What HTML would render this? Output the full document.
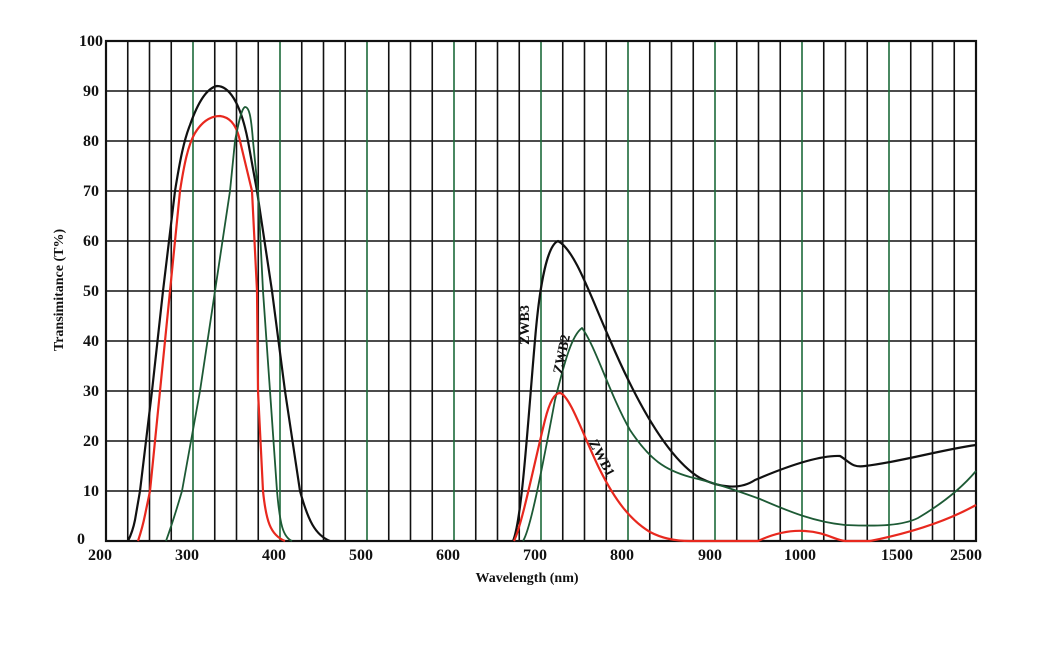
<!DOCTYPE html>
<html><head><meta charset="utf-8"><style>
body{margin:0;background:#fff}
svg{display:block}
text{font-family:"Liberation Serif",serif;font-weight:bold;fill:#111}
</style></head><body>
<svg width="1051" height="645" viewBox="0 0 1051 645" xmlns="http://www.w3.org/2000/svg">
<rect width="1051" height="645" fill="#fff"/>
<g stroke="#111" stroke-width="1.6">
<line x1="106" y1="91" x2="976" y2="91"/><line x1="106" y1="141" x2="976" y2="141"/>
<line x1="106" y1="191" x2="976" y2="191"/><line x1="106" y1="241" x2="976" y2="241"/>
<line x1="106" y1="291" x2="976" y2="291"/><line x1="106" y1="341" x2="976" y2="341"/>
<line x1="106" y1="391" x2="976" y2="391"/><line x1="106" y1="441" x2="976" y2="441"/>
<line x1="106" y1="491" x2="976" y2="491"/>
</g>
<g stroke="#111" stroke-width="1.6">
<line x1="127.75" y1="41" x2="127.75" y2="541"/><line x1="149.5" y1="41" x2="149.5" y2="541"/><line x1="171.25" y1="41" x2="171.25" y2="541"/>
<line x1="214.75" y1="41" x2="214.75" y2="541"/><line x1="236.5" y1="41" x2="236.5" y2="541"/><line x1="258.25" y1="41" x2="258.25" y2="541"/>
<line x1="301.75" y1="41" x2="301.75" y2="541"/><line x1="323.5" y1="41" x2="323.5" y2="541"/><line x1="345.25" y1="41" x2="345.25" y2="541"/>
<line x1="388.75" y1="41" x2="388.75" y2="541"/><line x1="410.5" y1="41" x2="410.5" y2="541"/><line x1="432.25" y1="41" x2="432.25" y2="541"/>
<line x1="475.75" y1="41" x2="475.75" y2="541"/><line x1="497.5" y1="41" x2="497.5" y2="541"/><line x1="519.25" y1="41" x2="519.25" y2="541"/>
<line x1="562.75" y1="41" x2="562.75" y2="541"/><line x1="584.5" y1="41" x2="584.5" y2="541"/><line x1="606.25" y1="41" x2="606.25" y2="541"/>
<line x1="649.75" y1="41" x2="649.75" y2="541"/><line x1="671.5" y1="41" x2="671.5" y2="541"/><line x1="693.25" y1="41" x2="693.25" y2="541"/>
<line x1="736.75" y1="41" x2="736.75" y2="541"/><line x1="758.5" y1="41" x2="758.5" y2="541"/><line x1="780.25" y1="41" x2="780.25" y2="541"/>
<line x1="823.75" y1="41" x2="823.75" y2="541"/><line x1="845.5" y1="41" x2="845.5" y2="541"/><line x1="867.25" y1="41" x2="867.25" y2="541"/>
<line x1="910.75" y1="41" x2="910.75" y2="541"/><line x1="932.5" y1="41" x2="932.5" y2="541"/><line x1="954.25" y1="41" x2="954.25" y2="541"/>
</g>
<g stroke="#1d6b3a" stroke-width="1.6">
<line x1="193" y1="41" x2="193" y2="541"/><line x1="280" y1="41" x2="280" y2="541"/><line x1="367" y1="41" x2="367" y2="541"/>
<line x1="454" y1="41" x2="454" y2="541"/><line x1="541" y1="41" x2="541" y2="541"/><line x1="628" y1="41" x2="628" y2="541"/>
<line x1="715" y1="41" x2="715" y2="541"/><line x1="802" y1="41" x2="802" y2="541"/><line x1="889" y1="41" x2="889" y2="541"/>
</g>
<rect x="106" y="41" width="870" height="500" fill="none" stroke="#111" stroke-width="2.2"/>

<g fill="none" stroke-width="2.2" stroke-linejoin="round">
<path stroke="#111" d="M128,541 C131,535 133,530 135,520 L140,491 L152,391 L163,291 L175,191 C180,160 184,140 190,125 C198,102 207,88 217,86 C228,86 240,100 248,141 L257,191 L272,291 L285,391 L300,491 C308,520 315,535 330,541"/>
<path stroke="#e8281e" d="M138,541 C140,535 143,525 145,515 L150,491 L160,391 L170,291 L180,191 C184,165 188,145 195,133 C203,120 212,116 220,116 C228,117 236,122 240,141 L252,191 L257,291 L258,391 L263,491 C266,520 270,535 285,541"/>
<path stroke="#1d5a35" stroke-width="1.8" d="M166,541 C170,530 175,515 182,491 L200,391 L215,291 L230,191 L235,141 C239,120 242,108 245,107 C249,107 251,115 253,141 L258,191 L263,291 L270,391 L277,491 C280,525 283,537 292,541"/>
<path stroke="#111" d="M513,541 C522,520 528,420 535,340 C540,280 548,245 558,241 C575,250 590,295 610,340 C640,410 670,460 700,478 C720,488 740,490 755,480 C790,465 820,455 840,456 C850,462 852,468 865,466 C900,462 940,450 976,445"/>
<path stroke="#1d5a35" stroke-width="1.8" d="M523,541 C530,530 540,480 555,400 C565,360 572,335 582,328 C595,345 610,395 630,430 C650,460 665,470 690,477 C715,483 735,490 760,499 C790,512 815,522 845,525 C870,526 900,527 918,518 C940,505 960,490 976,471"/>
<path stroke="#e8281e" d="M514,541 C522,525 535,460 545,420 C550,400 555,393 560,393 C570,395 585,440 600,470 C615,500 630,520 650,532 C665,540 680,541 690,541 L758,541 C775,533 790,530 805,531 C825,532 835,540 845,541 L870,541 C900,535 940,525 976,505"/>
</g>

<g font-size="16" text-anchor="end">
<text x="103" y="46">100</text><text x="99" y="96">90</text><text x="99" y="146">80</text>
<text x="99" y="196">70</text><text x="99" y="246">60</text><text x="99" y="296">50</text>
<text x="99" y="346">40</text><text x="99" y="396">30</text><text x="99" y="446">20</text>
<text x="99" y="496">10</text><text x="85" y="544">0</text>
</g>
<g font-size="16" text-anchor="middle">
<text x="100" y="560">200</text><text x="187" y="560">300</text><text x="274" y="560">400</text>
<text x="361" y="560">500</text><text x="448" y="560">600</text><text x="535" y="560">700</text>
<text x="622" y="560">800</text><text x="710" y="560">900</text><text x="800" y="560">1000</text>
<text x="897" y="560">1500</text><text x="966" y="560">2500</text>
</g>
<text x="527" y="582" font-size="14" text-anchor="middle">Wavelength  (nm)</text>
<text transform="translate(63,290) rotate(-90)" font-size="14" text-anchor="middle">Transimitance  (T%)</text>
<text transform="translate(529,325) rotate(-90)" font-size="14" font-weight="normal" text-anchor="middle">ZWB3</text>
<text transform="translate(566,355) rotate(-78)" font-size="14" font-weight="normal" text-anchor="middle">ZWB2</text>
<text transform="translate(598,460) rotate(62)" font-size="14" font-weight="normal" text-anchor="middle">ZWB1</text>
</svg>
</body></html>
